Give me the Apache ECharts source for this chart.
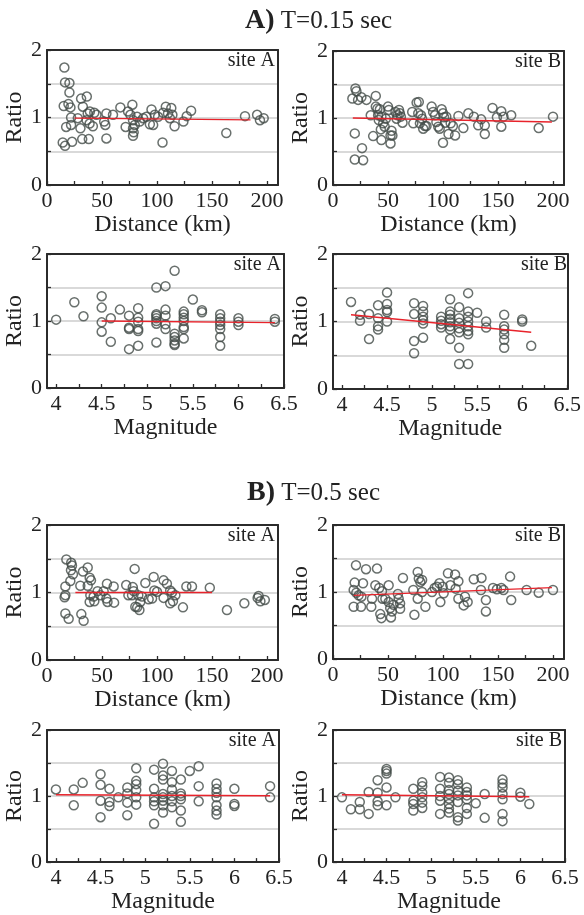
<!DOCTYPE html>
<html>
<head>
<meta charset="utf-8">
<script src="https://cdn.jsdelivr.net/npm/echarts@6/dist/echarts.min.js"></script>
<style>html,body{margin:0;padding:0;background:#fff}#c{width:584px;height:915px}</style>
</head>
<body>
<div id="c"></div>
<script>
// ---------- DATA ----------
const titleA = 'T=0.15 sec';
const titleB = 'T=0.5 sec';
const distTickLabels = [0, 50, 100, 150, 200];
const distTicks = [0, 25, 50, 75, 100, 125, 150, 175, 200];
const magTickLabels = [4, 4.5, 5, 5.5, 6, 6.5];
const magTicks = [4, 4.25, 4.5, 4.75, 5, 5.25, 5.5, 5.75, 6, 6.25, 6.5];
const ratioTickLabels = [0, 1, 2];

// A) T=0.15 sec, Distance, site A
const a015DistSiteA = [[15.8,1.74],[16.4,1.52],[20.4,1.51],[20.4,1.37],[15.2,1.17],[19.5,1.2],[21.3,1.15],[21.9,1.0],[17.4,0.86],[21.9,0.89],[14.3,0.63],[16.4,0.58],[22.8,0.64],[28,0.99],[31,1.28],[32.6,1.16],[36.2,1.31],[30.4,0.84],[32,0.68],[38,0.68],[37,1.06],[39,1.09],[43,1.07],[38.7,0.91],[41.7,0.87],[36,0.96],[45,1.04],[54,1.06],[53,0.89],[54,0.69],[60,1.04],[52,0.94],[66.7,1.15],[71.5,0.86],[73.7,1.09],[75.8,1.04],[77.6,1.19],[78.2,0.96],[78.2,0.84],[78.8,0.78],[78.2,0.73],[79.8,0.89],[81.9,1.01],[84.3,0.94],[87.4,0.99],[90.4,1.01],[93.5,0.9],[96.5,0.89],[95,1.12],[98,1.04],[101,1.01],[105,0.63],[105.6,1.07],[108,1.16],[110,1.06],[111.7,0.99],[113,1.14],[114,1.04],[116,0.87],[124,0.94],[127,1.02],[131,1.1],[163,0.77],[180,1.02],[191,1.04],[193.6,0.96],[197,0.99]];
const a015DistSiteAFit = [[25,0.99],[185,0.965]];

// A) T=0.15 sec, Distance, site B
const a015DistSiteB = [[20.4,1.44],[21.3,1.4],[17.6,1.29],[22.8,1.27],[25.8,1.31],[30.4,1.27],[19.8,0.77],[26.4,0.55],[19.8,0.38],[27.4,0.37],[38.9,1.33],[36.5,0.73],[34.3,1.04],[38.9,1.17],[40.4,1.14],[42.6,1.13],[41.6,0.97],[41,1.04],[44,1.02],[43.5,0.83],[44,0.67],[48,0.99],[47,0.87],[45.6,0.92],[50,1.17],[50.8,1.12],[52.3,0.74],[53.2,0.81],[52.3,0.62],[54,0.74],[56.8,1.09],[58.7,1.04],[60,1.12],[60.8,1.07],[61.7,1.02],[63.2,0.93],[57.8,0.99],[72,1.09],[73,0.92],[76,1.23],[78,1.24],[77.5,1.07],[80,1.04],[81,0.99],[82,0.84],[79,0.92],[83.6,0.88],[85,0.88],[89.7,1.17],[91,1.09],[92.7,1.04],[94,0.94],[95.7,0.87],[97,0.84],[98.8,1.13],[100,1.07],[101,1.01],[102,0.93],[103,1.02],[100,0.63],[105,0.76],[107,0.92],[109,0.88],[111,0.74],[114,1.03],[118.5,0.85],[123,1.07],[128,1.02],[132,0.89],[134.7,0.98],[138,0.89],[138,0.76],[145,1.15],[149,1.01],[153,1.1],[153,0.87],[155,1.02],[162,1.04],[187,0.85],[200,1.02]];
const a015DistSiteBFit = [[18,1.0],[199,0.94]];

// A) T=0.15 sec, Magnitude, site A
const a015MagSiteA = [[4.0,1.02],[4.2,1.28],[4.3,1.07],[4.5,1.37],[4.5,1.2],[4.5,0.98],[4.5,0.84],[4.6,1.04],[4.6,0.69],[4.7,1.17],[4.8,1.08],[4.8,0.9],[4.8,0.88],[4.8,0.58],[4.9,1.19],[4.9,1.05],[4.9,0.99],[4.9,0.88],[4.9,0.85],[4.9,0.63],[5.1,1.5],[5.1,1.08],[5.1,1.04],[5.1,1.0],[5.1,0.96],[5.1,0.68],[5.1,1.1],[5.2,1.52],[5.2,1.17],[5.2,1.08],[5.2,0.95],[5.2,0.88],[5.3,1.75],[5.3,0.81],[5.3,0.76],[5.3,0.71],[5.3,0.66],[5.3,0.64],[5.4,1.14],[5.4,1.1],[5.4,1.05],[5.4,1.0],[5.4,0.91],[5.4,0.88],[5.4,0.74],[5.5,1.32],[5.6,1.16],[5.6,1.13],[5.8,1.1],[5.8,1.04],[5.8,0.99],[5.8,0.94],[5.8,0.88],[5.8,0.76],[5.8,0.63],[6.0,1.04],[6.0,0.99],[6.0,0.94],[6.4,1.03],[6.4,0.99]];
const a015MagSiteAFit = [[4.5,1.0],[6.4,0.975]];

// A) T=0.15 sec, Magnitude, site B
const a015MagSiteB = [[4.1,1.29],[4.2,1.1],[4.2,1.01],[4.3,1.11],[4.3,0.74],[4.4,1.24],[4.4,1.05],[4.4,0.93],[4.4,0.88],[4.5,1.43],[4.5,1.26],[4.5,1.17],[4.5,1.14],[4.5,1.0],[4.8,1.27],[4.8,1.11],[4.8,0.71],[4.8,0.53],[4.9,1.23],[4.9,1.15],[4.9,1.07],[4.9,1.02],[4.9,0.97],[4.9,0.76],[5.1,1.07],[5.1,1.01],[5.1,0.96],[5.1,0.91],[5.2,1.33],[5.2,1.15],[5.2,1.1],[5.2,1.04],[5.2,0.99],[5.2,0.93],[5.2,0.88],[5.2,0.74],[5.3,1.21],[5.3,1.05],[5.3,0.98],[5.3,0.9],[5.3,0.84],[5.3,0.61],[5.3,0.37],[5.4,1.42],[5.4,1.15],[5.4,1.07],[5.4,1.0],[5.4,0.93],[5.4,0.86],[5.4,0.81],[5.4,0.37],[5.5,1.13],[5.6,1.0],[5.6,0.91],[5.8,1.1],[5.8,0.93],[5.8,0.88],[5.8,0.81],[5.8,0.73],[5.8,0.61],[6.0,1.03],[6.0,1.0],[6.1,0.64]];
const a015MagSiteBFit = [[4.1,1.1],[6.1,0.84]];

// B) T=0.5 sec, Distance, site A
const b05DistSiteA = [[17.6,1.49],[22,1.44],[22.7,1.4],[21.8,1.33],[23.6,1.27],[21.2,1.17],[16.7,1.09],[16.7,0.96],[16,0.93],[16.7,0.69],[19.7,0.61],[31.2,0.68],[33.3,0.58],[30.3,1.1],[32.7,1.31],[37,1.37],[38.8,1.22],[40,1.18],[37,1.1],[39.4,0.96],[38.8,0.86],[43,0.87],[42.4,0.94],[46,1.02],[48.5,0.96],[51.5,1.02],[54.5,1.13],[55,0.86],[60.6,1.09],[61,0.85],[54,0.91],[72,1.11],[74,0.96],[78,1.08],[79.7,1.35],[78.8,1.02],[77.3,0.96],[80.3,0.79],[82,0.78],[84,0.74],[83,0.96],[84.8,0.86],[86.4,0.94],[89.4,1.14],[92.4,0.9],[95.5,0.91],[97,1.23],[97.6,1.03],[100,1.01],[106,0.92],[106,1.18],[109,1.13],[112,1.03],[113.6,1.0],[116.7,0.96],[112,0.84],[114.5,0.87],[123.6,0.78],[126.7,1.09],[131.8,1.09],[148,1.07],[163.6,0.74],[179.4,0.84],[192.4,0.95],[191.5,0.92],[194,0.87],[198,0.89]];
const b05DistSiteAFit = [[25.8,1.0],[150,1.0]];

// B) T=0.5 sec, Distance, site B
const b05DistSiteB = [[20.9,1.4],[30,1.34],[40,1.35],[19.7,1.14],[27.3,1.13],[18.8,1.03],[21.2,0.99],[23.3,0.95],[25.8,0.93],[18.8,0.78],[25.5,0.78],[34.8,0.78],[35.5,0.9],[38.5,1.1],[42,1.06],[44.5,1.01],[45,0.9],[43,0.67],[44,0.61],[50.6,1.1],[47.6,0.9],[50.6,0.85],[52,0.76],[53.6,0.71],[52.7,0.62],[55,0.81],[59,0.97],[59.7,0.9],[61,0.83],[61,0.75],[63.6,1.21],[74,0.66],[73,1.03],[77,1.3],[78,1.2],[79.4,1.15],[81,1.18],[77,0.9],[81,1.0],[84,0.78],[90,1.0],[92.4,1.06],[94.5,1.08],[96.7,1.13],[97.6,0.85],[99.7,1.08],[100.6,0.98],[104.5,1.28],[106.7,1.1],[111,1.26],[111.5,1.05],[114,0.9],[114,1.16],[118.8,0.8],[120,0.93],[122.4,0.85],[128,1.19],[135,1.21],[134.5,1.03],[139,0.88],[139,0.71],[145.5,1.06],[149,1.04],[153,1.06],[155,1.03],[161,1.23],[162,0.88],[176,1.03],[187,0.99],[200,1.03]];
const b05DistSiteBFit = [[18.8,0.95],[199,1.065]];

// B) T=0.5 sec, Magnitude, site A
const b05MagSiteA = [[4.0,1.1],[4.2,1.1],[4.2,0.86],[4.3,1.2],[4.5,1.33],[4.5,1.17],[4.5,0.93],[4.5,0.68],[4.6,1.11],[4.6,0.91],[4.6,0.85],[4.7,0.98],[4.8,1.13],[4.8,1.04],[4.8,0.9],[4.8,0.71],[4.9,1.42],[4.9,1.23],[4.9,1.18],[4.9,1.09],[4.9,0.98],[4.9,0.87],[5.1,1.4],[5.1,1.11],[5.1,0.98],[5.1,0.92],[5.1,0.86],[5.1,0.58],[5.2,1.49],[5.2,1.31],[5.2,1.25],[5.2,1.03],[5.2,0.98],[5.2,0.93],[5.2,0.86],[5.2,0.75],[5.3,1.38],[5.3,1.21],[5.3,1.1],[5.3,1.0],[5.3,0.92],[5.3,0.83],[5.4,1.25],[5.4,1.04],[5.4,1.0],[5.4,0.95],[5.4,0.78],[5.4,0.61],[5.5,1.38],[5.6,1.45],[5.6,1.15],[5.6,0.92],[5.8,1.19],[5.8,1.11],[5.8,1.05],[5.8,0.98],[5.8,0.86],[5.8,0.78],[5.8,0.72],[6.0,1.11],[6.0,0.88],[6.0,0.85],[6.4,1.15],[6.4,0.98]];
const b05MagSiteAFit = [[4.0,1.02],[6.4,1.005]];

// B) T=0.5 sec, Magnitude, site B
const b05MagSiteB = [[4.0,0.98],[4.1,0.8],[4.2,0.91],[4.2,0.8],[4.3,1.06],[4.3,0.73],[4.4,1.24],[4.4,1.05],[4.4,0.92],[4.4,0.86],[4.5,1.41],[4.5,1.38],[4.5,1.34],[4.5,1.13],[4.5,0.86],[4.6,0.98],[4.8,1.11],[4.8,0.93],[4.8,0.88],[4.8,0.78],[4.9,1.21],[4.9,1.15],[4.9,1.05],[4.9,0.98],[4.9,0.9],[4.9,0.82],[5.1,1.29],[5.1,1.11],[5.1,1.0],[5.1,0.93],[5.1,0.73],[5.2,1.28],[5.2,1.2],[5.2,1.09],[5.2,1.03],[5.2,0.96],[5.2,0.88],[5.2,0.81],[5.2,0.75],[5.3,1.24],[5.3,1.18],[5.3,1.08],[5.3,1.01],[5.3,0.91],[5.3,0.68],[5.3,0.63],[5.4,1.13],[5.4,1.06],[5.4,1.01],[5.4,0.95],[5.4,0.82],[5.4,0.73],[5.5,0.89],[5.6,1.03],[5.6,0.67],[5.8,1.25],[5.8,1.19],[5.8,1.13],[5.8,1.03],[5.8,0.95],[5.8,0.73],[5.8,0.62],[6.0,1.05],[6.0,0.99],[6.1,0.88]];
const b05MagSiteBFit = [[4.0,1.02],[6.1,0.99]];

// ---------- LAYOUT / STYLE ----------
const FONT = '"Liberation Serif", "Times New Roman", serif';
const AXC = '#2b2b2b';
const panels = [
  {g:{left:47,top:50,width:231,height:135}, kind:'dist', data:a015DistSiteA, fit:a015DistSiteAFit, site:'site A'},
  {g:{left:333,top:51,width:231,height:134}, kind:'dist', data:a015DistSiteB, fit:a015DistSiteBFit, site:'site B'},
  {g:{left:47,top:254,width:237,height:134}, kind:'mag', data:a015MagSiteA, fit:a015MagSiteAFit, site:'site A'},
  {g:{left:333,top:254,width:237,height:135}, kind:'mag', data:a015MagSiteB, fit:a015MagSiteBFit, site:'site B'},
  {g:{left:47,top:525,width:231,height:135}, kind:'dist', data:b05DistSiteA, fit:b05DistSiteAFit, site:'site A'},
  {g:{left:333,top:525,width:231,height:134}, kind:'dist', data:b05DistSiteB, fit:b05DistSiteBFit, site:'site B'},
  {g:{left:47,top:730,width:232,height:134}, kind:'mag', data:b05MagSiteA, fit:b05MagSiteAFit, site:'site A'},
  {g:{left:333,top:730,width:232,height:134}, kind:'mag', data:b05MagSiteB, fit:b05MagSiteBFit, site:'site B'}
];

const grid = [], xAxis = [], yAxis = [], series = [], title = [];
panels.forEach((p, i) => {
  grid.push(Object.assign({containLabel:false}, p.g));
  const isDist = p.kind === 'dist';
  const xmin = isDist ? 0 : 3.9, xmax = isDist ? 210 : 6.5;
  xAxis.push({
    gridIndex:i, type:'value', min:xmin, max:xmax, position:'bottom',
    name: isDist ? 'Distance (km)' : 'Magnitude', nameLocation:'middle', nameGap:25,
    nameTextStyle:{fontFamily:FONT, fontSize:24, color:'#222'},
    axisLine:{show:true, onZero:false, lineStyle:{color:AXC, width:2}},
    axisTick:{show:true, inside:true, length:4, customValues: isDist ? distTicks : magTicks, lineStyle:{color:AXC, width:1.3}},
    axisLabel:{show:true, margin:5, fontFamily:FONT, fontSize:22, color:'#222', customValues: isDist ? distTickLabels : magTickLabels,
      formatter: v => String(v)},
    splitLine:{show:false}
  });
  xAxis.push({
    gridIndex:i, type:'value', min:xmin, max:xmax, position:'top',
    axisLine:{show:true, onZero:false, lineStyle:{color:AXC, width:2}},
    axisTick:{show:false}, axisLabel:{show:false}, splitLine:{show:false}
  });
  yAxis.push({
    gridIndex:i, type:'value', min:0, max:2, interval:0.5, position:'left',
    name:'Ratio', nameLocation:'middle', nameGap:20,
    nameTextStyle:{fontFamily:FONT, fontSize:24, color:'#222'},
    axisLine:{show:true, onZero:false, lineStyle:{color:AXC, width:2}},
    axisTick:{show:true, inside:true, length:4, lineStyle:{color:AXC, width:1.3}},
    axisLabel:{show:true, margin:5, fontFamily:FONT, fontSize:22, color:'#222', customValues: ratioTickLabels,
      formatter: v => String(v)},
    splitLine:{show:true, lineStyle:{color:'#cccccc', width:1.6}}
  });
  yAxis.push({
    gridIndex:i, type:'value', min:0, max:2, position:'right',
    axisLine:{show:true, onZero:false, lineStyle:{color:AXC, width:2}},
    axisTick:{show:false}, axisLabel:{show:false}, splitLine:{show:false}
  });
  series.push({
    type:'scatter', xAxisIndex:2*i, yAxisIndex:2*i, data:p.data,
    symbol:'circle', symbolSize:9,
    itemStyle:{color:'rgba(0,0,0,0)', borderColor:'#434c49', borderWidth:1.5},
    silent:true, z:3
  });
  series.push({
    type:'line', xAxisIndex:2*i, yAxisIndex:2*i, data:p.fit,
    symbol:'none', lineStyle:{color:'#e8232b', width:1.4}, silent:true, z:4
  });
  title.push({
    text:p.site, right:584 - (p.g.left + p.g.width) + 3, top:p.g.top + 1, padding:0,
    textStyle:{fontFamily:FONT, fontSize:20, fontWeight:'normal', color:'#222'}
  });
});
title.push({
  text:'{b|A)} ' + titleA, left:245, top:7, padding:0,
  textStyle:{fontFamily:FONT, fontSize:25, fontWeight:'normal', color:'#222',
    rich:{b:{fontFamily:FONT, fontSize:28, fontWeight:'bold', color:'#222'}}}
});
title.push({
  text:'{b|B)} ' + titleB, left:247, top:479, padding:0,
  textStyle:{fontFamily:FONT, fontSize:25, fontWeight:'normal', color:'#222',
    rich:{b:{fontFamily:FONT, fontSize:28, fontWeight:'bold', color:'#222'}}}
});

const chart = echarts.init(document.getElementById('c'), null, {renderer:'canvas'});
chart.setOption({animation:false, backgroundColor:'#fff', title, grid, xAxis, yAxis, series});
</script>
</body>
</html>
